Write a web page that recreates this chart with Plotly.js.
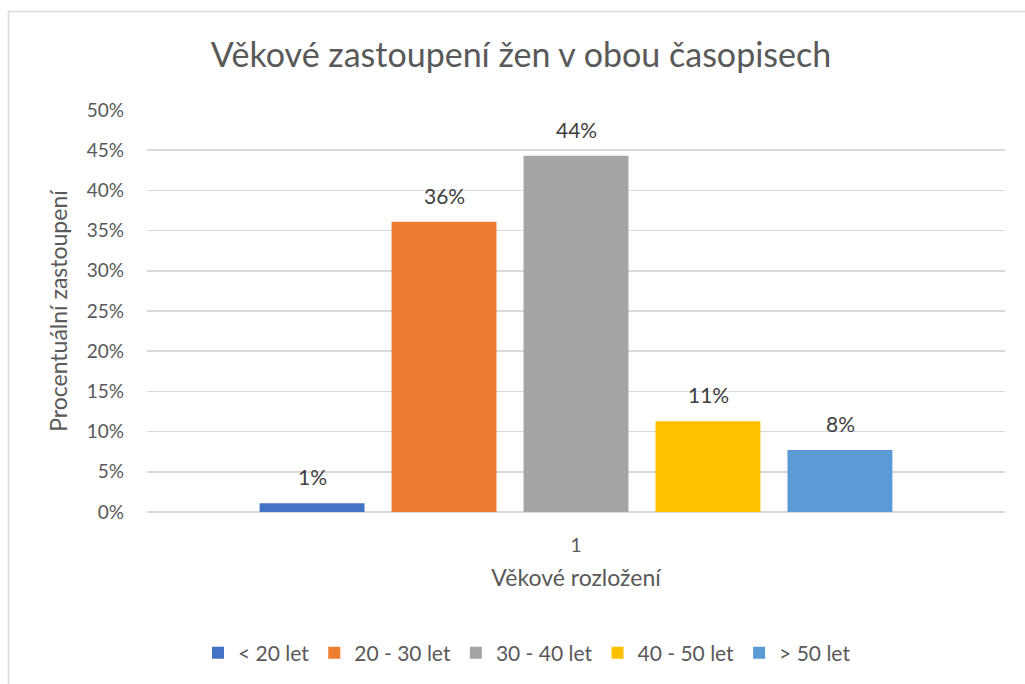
<!DOCTYPE html>
<html><head><meta charset="utf-8">
<script src="https://cdn.plot.ly/plotly-3.0.1.min.js"></script>
<style>html,body{margin:0;padding:0;background:#fff}#chart{width:1025px;height:684px}</style>
</head><body><div id="chart"></div>
<script>
var categories = ["1"];
var seriesNames = ["< 20 let", "20 - 30 let", "30 - 40 let", "40 - 50 let", "> 50 let"];
var seriesValues = [[0.011], [0.361], [0.443], [0.113], [0.077]];
var seriesColors = ["#4472C4", "#ED7D31", "#A5A5A5", "#FFC000", "#5B9BD5"];
var yTickVals = [0, 0.05, 0.1, 0.15, 0.2, 0.25, 0.3, 0.35, 0.4, 0.45, 0.5];

var FONT = "Lato, 'Open Sans', sans-serif";
var traces = seriesNames.map(function(n, i){
  return {type:'bar', name:n, x:categories, y:seriesValues[i],
    marker:{color:seriesColors[i]}, hoverinfo:'none'};
});
// data labels placed above each bar (offset = bar slot pitch in px); x is the category index
var pitch = 132;
var annotations = [];
seriesNames.forEach(function(n, i){
  annotations.push({x:0, y:seriesValues[i][0], xref:'x', yref:'y',
    text: Math.round(seriesValues[i][0]*100)+'%', showarrow:false,
    xshift:(i-2)*pitch, yshift:12, yanchor:'bottom',
    font:{family:FONT, size:21, color:'#404040'}});
});
var layout = {
  width:1025, height:684,
  margin:{l:147, r:20, t:110, b:172},
  paper_bgcolor:'#fff', plot_bgcolor:'#fff',
  font:{family:FONT, color:'#595959'},
  title:{text:'Věkové zastoupení žen v obou časopisech', x:521/1025, xref:'container', xanchor:'center',
    y:1-55/684, yref:'container', yanchor:'middle',
    font:{family:FONT, size:34, color:'#595959'}},
  barmode:'group', bargap:0.231, bargroupgap:0.205,
  xaxis:{type:'category', range:[-0.5, 0.5], autorange:false, showgrid:false, zeroline:false, showline:false, ticks:'',
    tickfont:{size:19, color:'#595959'}, ticklabelstandoff:20,
    title:{text:'Věkové rozložení', font:{size:23, color:'#595959'}, standoff:14}},
  yaxis:{range:[0,0.5], tickvals:yTickVals, tickformat:'.0%', showgrid:true, gridcolor:'#D9D9D9', gridwidth:1.5,
    zeroline:true, zerolinecolor:'#D9D9D9', zerolinewidth:1.5, showline:false, ticks:'',
    tickfont:{size:19, color:'#595959'}, ticklabelstandoff:22,
    title:{text:'Procentuální zastoupení', font:{size:23, color:'#595959'}, standoff:12}},
  showlegend:true,
  legend:{orientation:'h', x:527/1025, xanchor:'center', xref:'container', y:(684-653)/684, yref:'container', yanchor:'middle',
    font:{size:21, color:'#595959'}, itemwidth:30, traceorder:'normal'},
  annotations: annotations,
  shapes:[{type:'rect', xref:'paper', yref:'paper', x0:(8.5-147)/858, x1:(1040-147)/858, y0:(512-720)/402, y1:(512-11.5)/402,
    line:{color:'#D9D9D9', width:1.5}, fillcolor:'rgba(0,0,0,0)'}]
};
Plotly.newPlot('chart', traces, layout, {displayModeBar:false, staticPlot:true});
</script></body></html>
